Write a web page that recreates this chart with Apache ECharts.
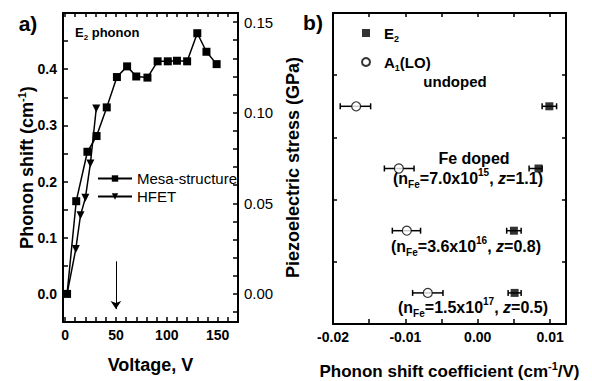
<!DOCTYPE html>
<html><head><meta charset="utf-8">
<script src="https://cdn.jsdelivr.net/npm/echarts@6/dist/echarts.min.js"></script>
<style>html,body{margin:0;padding:0;background:#fff}#c{width:592px;height:381px}</style>
</head><body><div id="c"></div>
<script>
// ---- Panel a data ----
const voltageMesa = [2, 11, 22, 31, 41, 51, 61, 70, 81, 91, 101, 110, 120, 130, 139, 149];
const shiftMesa   = [0, 0.165, 0.253, 0.281, 0.332, 0.386, 0.405, 0.387, 0.385, 0.414, 0.414, 0.415, 0.414, 0.464, 0.431, 0.409];
const voltageHFET = [2, 10.6, 15.2, 20, 24.9, 30.7];
const shiftHFET   = [0, 0.08, 0.14, 0.171, 0.232, 0.33];
const xTicksA = [0, 50, 100, 150];
const xMinorA = [10, 20, 30, 40, 60, 70, 80, 90, 110, 120, 130, 140, 160];
const yTicksA = [0, 0.1, 0.2, 0.3, 0.4];
const yMinorA = [0.05, 0.15, 0.25, 0.35, 0.45];
const yTicksStress = [0, 0.05, 0.1, 0.15];
const yMinorStress = [-0.01, 0.01, 0.02, 0.03, 0.04, 0.06, 0.07, 0.08, 0.09, 0.11, 0.12, 0.13, 0.14];
// ---- Panel b data ----
const rowsB  = [3.5, 2.5, 1.5, 0.5];
const e2Coef = [0.0099, 0.0084, 0.0050, 0.0051];
const e2Low  = [0.0089, 0.0071, 0.0040, 0.0042];
const e2High = [0.0109, 0.0089, 0.0060, 0.0060];
const a1Coef = [-0.0168, -0.0109, -0.0098, -0.0069];
const a1Low  = [-0.0190, -0.0129, -0.0118, -0.0090];
const a1High = [-0.0148, -0.0088, -0.0079, -0.0048];
const xTicksB = [-0.02, -0.01, 0, 0.01];
const xMinorB = [-0.015, -0.005, 0.005];
const rowTicksB = [0, 1, 2, 3, 4, 5];

const FF = '"Liberation Sans", Arial, sans-serif';
const BLK = '#000';
const all = (a, b) => a.concat(b).sort((p, q) => p - q);
const isMajor = (v, majors) => majors.some(m => Math.abs(m - v) < 1e-9);

function ax(o) {
  return Object.assign({
    type: 'value', splitLine: {show: false}, axisLine: {show: true, onZero: false, lineStyle: {color: BLK, width: 2}},
    axisTick: {show: false}, axisLabel: {show: false}, nameMoveOverlap: false
  }, o);
}
function ticks(vals, len) {
  return {show: true, inside: true, length: len, customValues: vals, lineStyle: {color: BLK, width: 1.5}};
}
function labels(majors, minors, fmt, extra) {
  return Object.assign({show: true, customValues: all(majors, minors), interval: 0, hideOverlap: false,
    color: BLK, margin: 6, fontFamily: FF, fontSize: 14, fontWeight: 'bold',
    formatter: v => isMajor(v, majors) ? fmt(v) : ''}, extra || {});
}
function frameOnly(majors, minors, len) {
  return {axisTick: ticks(all(majors, minors), len),
          axisLabel: {show: true, customValues: all(majors, minors), interval: 0, hideOverlap: false, formatter: () => '', color: 'rgba(0,0,0,0)'}};
}

function errRender(params, api) {
  const y = api.value(0), lo = api.value(1), hi = api.value(2);
  const p1 = api.coord([lo, y]), p2 = api.coord([hi, y]);
  const h = 3;
  const st = {stroke: BLK, lineWidth: 1.5};
  return {type: 'group', children: [
    {type: 'line', shape: {x1: p1[0], y1: p1[1], x2: p2[0], y2: p2[1]}, style: st},
    {type: 'line', shape: {x1: p1[0], y1: p1[1] - h, x2: p1[0], y2: p1[1] + h}, style: st},
    {type: 'line', shape: {x1: p2[0], y1: p2[1] - h, x2: p2[0], y2: p2[1] + h}, style: st}
  ]};
}

const supRich = {sup: {fontSize: 11, fontWeight: 'bold', fontFamily: FF, color: BLK, verticalAlign: 'top', lineHeight: 12}};

const chart = echarts.init(document.getElementById('c'), null, {renderer: 'svg'});
const option = {
  animation: false,
  backgroundColor: '#fff',
  textStyle: {fontFamily: FF, color: BLK},
  grid: [
    {left: 63, top: 13, width: 175, height: 309, containLabel: false, outerBoundsMode: 'none'},
    {left: 333, top: 13, width: 233, height: 311, containLabel: false, outerBoundsMode: 'none'}
  ],
  xAxis: [
    ax({gridIndex: 0, position: 'bottom', min: -2, max: 170, axisTick: ticks(all(xTicksA, xMinorA), 5),
        axisLabel: labels(xTicksA, xMinorA, v => String(v)),
        name: 'Voltage, V', nameLocation: 'middle', nameGap: 34,
        nameTextStyle: {fontSize: 18, fontWeight: 'bold', color: BLK, fontFamily: FF}}),
    ax(Object.assign({gridIndex: 0, position: 'top', min: -2, max: 170}, frameOnly(xTicksA, xMinorA, 4))),
    ax({gridIndex: 1, position: 'bottom', min: -0.02, max: 0.0122, axisTick: ticks(all(xTicksB, xMinorB), 5),
        axisLabel: labels(xTicksB, xMinorB, v => Number(v).toFixed(2)),
        name: 'Phonon shift coefficient (cm{sup|-1}/V)', nameLocation: 'middle', nameGap: 36,
        nameTextStyle: {fontSize: 17, fontWeight: 'bold', color: BLK, fontFamily: FF, lineHeight: 22, rich: supRich}}),
    ax(Object.assign({gridIndex: 1, position: 'top', min: -0.02, max: 0.0122}, frameOnly(xTicksB, xMinorB, 4)))
  ],
  yAxis: [
    ax({gridIndex: 0, position: 'left', min: -0.05, max: 0.5, axisTick: ticks(all(yTicksA, yMinorA), 5),
        axisLabel: labels(yTicksA, yMinorA, v => Number(v).toFixed(1)),
        name: 'Phonon shift (cm{sup|-1})', nameLocation: 'middle', nameGap: 25, nameRotate: 90,
        nameTextStyle: {fontSize: 18, fontWeight: 'bold', color: BLK, fontFamily: FF, lineHeight: 22, rich: supRich}}),
    ax({gridIndex: 0, position: 'right', min: -0.0155, max: 0.155, axisTick: ticks(all(yTicksStress, yMinorStress), 5),
        axisLabel: labels(yTicksStress, yMinorStress, v => Number(v).toFixed(2), {fontSize: 15, fontWeight: 'normal'}),
        name: 'Piezoelectric stress (GPa)', nameLocation: 'middle', nameGap: 46, nameRotate: 90,
        nameTextStyle: {fontSize: 18, fontWeight: 'bold', color: BLK, fontFamily: FF}}),
    ax(Object.assign({gridIndex: 1, position: 'left', min: 0, max: 5}, frameOnly(rowTicksB, [], 4))),
    ax(Object.assign({gridIndex: 1, position: 'right', min: 0, max: 5}, frameOnly(rowTicksB, [], 4)))
  ],
  legend: [
    {data: ['Mesa-structure', 'HFET'], orient: 'vertical', left: 97, top: 171, padding: 0,
     itemWidth: 34, itemHeight: 8, itemGap: 3,
     textStyle: {fontSize: 15, color: BLK, fontFamily: FF, lineHeight: 15}},
    {data: ['E2', 'A1(LO)'], orient: 'vertical', left: 361, top: 23, padding: 0,
     itemWidth: 8, itemHeight: 8, itemGap: 9,
     formatter: n => n === 'E2' ? 'E{sub|2}' : 'A{sub|1}(LO)',
     textStyle: {fontSize: 15, fontWeight: 'bold', color: BLK, fontFamily: FF, lineHeight: 20, padding: [0, 0, 0, 9],
       rich: {sub: {fontSize: 9, fontWeight: 'bold', fontFamily: FF, color: BLK, verticalAlign: 'bottom', lineHeight: 10}}}}
  ],
  series: [
    {name: 'HFET', type: 'line', xAxisIndex: 0, yAxisIndex: 0,
     data: voltageHFET.map((v, i) => [v, shiftHFET[i]]),
     symbol: 'triangle', symbolRotate: 180, symbolSize: 8,
     lineStyle: {color: BLK, width: 1.5}, itemStyle: {color: BLK},
     markLine: {silent: true, symbol: ['none', 'arrow'], symbolSize: 8, label: {show: false},
       lineStyle: {color: BLK, width: 1, type: 'solid'},
       data: [[{coord: [50, 0.058]}, {coord: [50, -0.027]}]]}},
    {name: 'Mesa-structure', type: 'line', xAxisIndex: 0, yAxisIndex: 0,
     data: voltageMesa.map((v, i) => [v, shiftMesa[i]]),
     symbol: 'rect', symbolSize: 8,
     lineStyle: {color: BLK, width: 1.5}, itemStyle: {color: BLK}},
    {name: 'errE2', type: 'custom', xAxisIndex: 2, yAxisIndex: 2, renderItem: errRender,
     encode: {x: [1, 2], y: 0}, data: rowsB.map((r, i) => [r, e2Low[i], e2High[i]]), z: 1},
    {name: 'errA1', type: 'custom', xAxisIndex: 2, yAxisIndex: 2, renderItem: errRender,
     encode: {x: [1, 2], y: 0}, data: rowsB.map((r, i) => [r, a1Low[i], a1High[i]]), z: 1},
    {name: 'E2', type: 'scatter', xAxisIndex: 2, yAxisIndex: 2, symbol: 'rect', symbolSize: 8,
     itemStyle: {color: BLK}, data: rowsB.map((r, i) => [e2Coef[i], r]), z: 3},
    {name: 'A1(LO)', type: 'scatter', xAxisIndex: 2, yAxisIndex: 2, symbol: 'circle', symbolSize: 9,
     itemStyle: {color: '#fff', borderColor: BLK, borderWidth: 1.2}, data: rowsB.map((r, i) => [a1Coef[i], r]), z: 3}
  ],
  graphic: [
    {type: 'text', style: {text: 'a)', x: 28, y: 23, textAlign: 'center', textVerticalAlign: 'middle', fontSize: 21, fontWeight: 'bold', fontFamily: FF, fill: BLK}},
    {type: 'text', style: {text: 'b)', x: 313, y: 22, textAlign: 'center', textVerticalAlign: 'middle', fontSize: 21, fontWeight: 'bold', fontFamily: FF, fill: BLK}},
    {type: 'text', style: {text: 'E{sub|2} phonon', x: 75, y: 32, textAlign: 'left', textVerticalAlign: 'middle', fontSize: 13, fontWeight: 'bold', fontFamily: FF, fill: BLK, lineHeight: 18,
      rich: {sub: {fontSize: 8, fontWeight: 'bold', fontFamily: FF, fill: BLK, verticalAlign: 'bottom', lineHeight: 9}}}},
    {type: 'text', style: {text: 'undoped', x: 455, y: 81, textAlign: 'center', textVerticalAlign: 'middle', fontSize: 15, fontWeight: 'bold', fontFamily: FF, fill: BLK}},
    {type: 'text', style: {text: 'Fe doped', x: 474, y: 158, textAlign: 'center', textVerticalAlign: 'middle', fontSize: 16, fontWeight: 'bold', fontFamily: FF, fill: BLK}},
    ...[['7.0', '15', '1.1', 468, 178], ['3.6', '16', '0.8', 466, 246], ['1.5', '17', '0.5', 473, 307]].map(d => ({
      type: 'text', style: {text: '(n{sub|Fe}=' + d[0] + 'x10{sup|' + d[1] + '}, {it|z}=' + d[2] + ')', x: d[3], y: d[4],
        textAlign: 'center', textVerticalAlign: 'middle', fontSize: 16, fontWeight: 'bold', fontFamily: FF, fill: BLK, lineHeight: 22,
        rich: {
          sub: {fontSize: 10, fontWeight: 'bold', fontFamily: FF, fill: BLK, verticalAlign: 'bottom', lineHeight: 10},
          sup: {fontSize: 10, fontWeight: 'bold', fontFamily: FF, fill: BLK, verticalAlign: 'top', lineHeight: 10},
          it: {fontSize: 16, fontWeight: 'bold', fontStyle: 'italic', fontFamily: FF, fill: BLK}
        }}}))
  ]
};
chart.setOption(option);
</script>
</body></html>
